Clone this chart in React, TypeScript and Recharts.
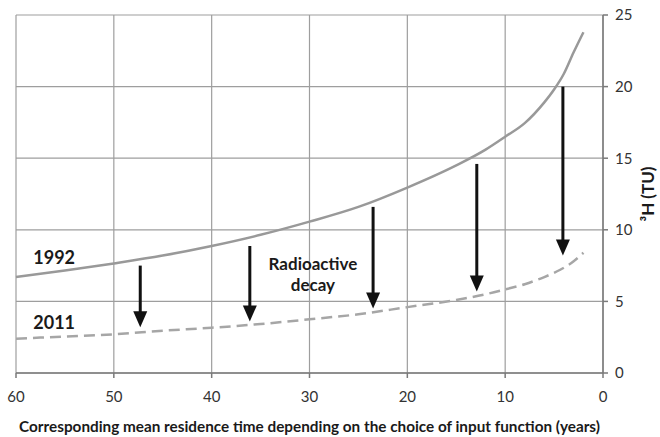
import React from "react";
import {
  CartesianGrid,
  Label,
  Line,
  LineChart,
  ReferenceDot,
  ReferenceLine,
  XAxis,
  YAxis,
} from "recharts";

// mean residence time (years) and tritium content (TU)
const years = [60, 55, 50, 45, 40, 35, 30, 25, 20, 15, 12, 10, 8, 6, 5, 4, 3, 2];
const tu1992 = [6.7, 7.15, 7.65, 8.2, 8.87, 9.65, 10.57, 11.6, 12.95, 14.5, 15.6, 16.5, 17.45, 18.9, 19.8, 20.9, 22.4, 23.8];
const tu2011 = [2.4, 2.55, 2.7, 2.95, 3.16, 3.42, 3.75, 4.1, 4.6, 5.1, 5.5, 5.84, 6.2, 6.7, 7.0, 7.35, 7.8, 8.4];

// decay arrows: x position, start value, tip value
const arrowYears = [47.3, 36.1, 23.5, 12.9, 4.1];
const arrowFrom = [7.5, 8.87, 11.6, 14.6, 20.0];
const arrowTo = [3.2, 3.6, 4.5, 5.7, 8.2];

const xTicks = [0, 10, 20, 30, 40, 50, 60];
const yTicks = [0, 5, 10, 15, 20, 25];

const data = years.map((year, i) => ({
  year,
  tu1992: tu1992[i],
  tu2011: tu2011[i],
}));

const FONT = "Lato, 'Open Sans', sans-serif";

const Arrow = (props: any) => {
  const { x1, y1, x2, y2 } = props;
  const head = 16;
  return (
    <g>
      <line x1={x1} y1={y1} x2={x2} y2={y2 - head + 2} stroke="#111" strokeWidth={3} />
      <polygon
        points={`${x2 - 7},${y2 - head} ${x2 + 7},${y2 - head} ${x2},${y2}`}
        fill="#111"
      />
    </g>
  );
};

const textLabel = (lines: string[], size: number) => (props: any) => {
  const { viewBox } = props;
  const cx = viewBox.x + (viewBox.width || 0) / 2;
  const cy = viewBox.y + (viewBox.height || 0) / 2;
  const lh = size * 1.25;
  const top = cy - ((lines.length - 1) * lh) / 2;
  return (
    <text
      fontFamily={FONT}
      fontSize={size}
      fontWeight={700}
      fill="#1a1a1a"
      textAnchor="middle"
      dominantBaseline="central"
    >
      {lines.map((l, i) => (
        <tspan key={l} x={cx} y={top + i * lh}>
          {l}
        </tspan>
      ))}
    </text>
  );
};

const yTitle = (props: any) => {
  const { viewBox } = props;
  const cx = viewBox.x + 44;
  const cy = viewBox.y + viewBox.height / 2;
  return (
    <text
      x={cx}
      y={cy}
      transform={`rotate(-90, ${cx}, ${cy})`}
      textAnchor="middle"
      dominantBaseline="central"
      fontFamily={FONT}
      fontSize={17}
      fontWeight={700}
      fill="#1a1a1a"
    >
      ³H (TU)
    </text>
  );
};

export default function App() {
  return (
    <div style={{ position: "absolute", left: 0, top: 0, background: "#fff" }}>
      <LineChart
        width={660}
        height={437}
        data={data}
        margin={{ top: 15, right: 0, bottom: 0, left: 16 }}
      >
        <CartesianGrid stroke="#9e9e9e" strokeWidth={1.2} />
        <XAxis
          dataKey="year"
          type="number"
          domain={[0, 60]}
          ticks={xTicks}
          reversed
          height={64}
          tickSize={5}
          tickMargin={13}
          axisLine={{ stroke: "#7a7a7a", strokeWidth: 1.5 }}
          tickLine={{ stroke: "#7a7a7a", strokeWidth: 1.5 }}
          tick={{ fill: "#333", fontSize: 15, fontFamily: FONT }}
        >
          <Label
            value="Corresponding mean residence time depending on the choice of input function (years)"
            position="insideBottom"
            offset={5}
            style={{ fontFamily: FONT, fontSize: 15.3, fontWeight: 700, fill: "#1a1a1a" }}
          />
        </XAxis>
        <YAxis
          orientation="right"
          type="number"
          domain={[0, 25]}
          ticks={yTicks}
          width={57}
          tickSize={5}
          tickMargin={7}
          axisLine={{ stroke: "#7a7a7a", strokeWidth: 1.5 }}
          tickLine={{ stroke: "#7a7a7a", strokeWidth: 1.5 }}
          tick={{ fill: "#333", fontSize: 15, fontFamily: FONT, textAnchor: "start" }}
        >
          <Label content={yTitle} />
        </YAxis>
        <Line
          type="monotone"
          dataKey="tu1992"
          stroke="#999"
          strokeWidth={2.5}
          dot={false}
          isAnimationActive={false}
        />
        <Line
          type="monotone"
          dataKey="tu2011"
          stroke="#a6a6a6"
          strokeWidth={2.5}
          strokeDasharray="11 6"
          dot={false}
          isAnimationActive={false}
        />
        {arrowYears.map((x, i) => (
          <ReferenceLine
            key={x}
            segment={[
              { x, y: arrowFrom[i] },
              { x, y: arrowTo[i] },
            ]}
            shape={Arrow}
            ifOverflow="visible"
          />
        ))}
        <ReferenceDot x={56.1} y={8.1} r={0} stroke="none" label={{ content: textLabel(["1992"], 18) }} />
        <ReferenceDot x={56.1} y={3.56} r={0} stroke="none" label={{ content: textLabel(["2011"], 18) }} />
        <ReferenceDot
          x={29.65}
          y={6.95}
          r={0}
          stroke="none"
          label={{ content: textLabel(["Radioactive", "decay"], 17) }}
        />
      </LineChart>
    </div>
  );
}
